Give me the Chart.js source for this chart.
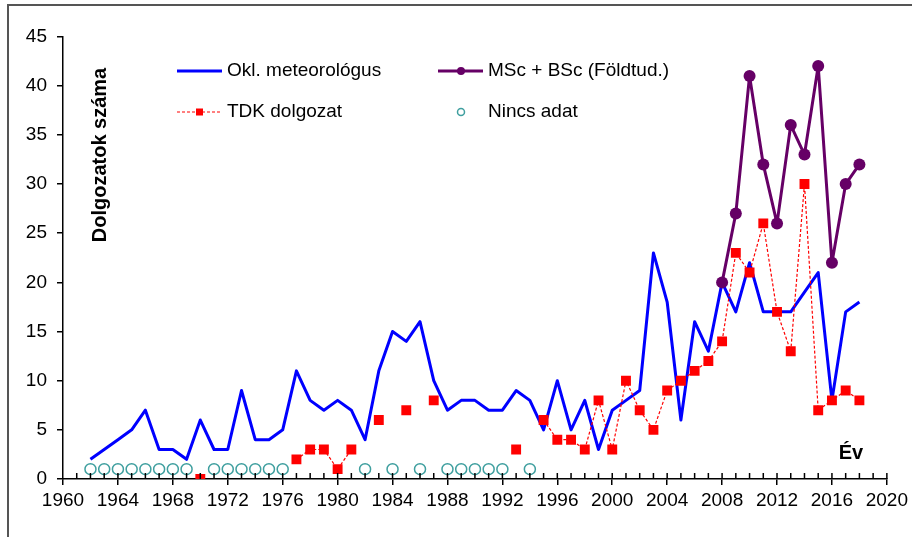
<!DOCTYPE html>
<html>
<head>
<meta charset="utf-8">
<script src="https://cdn.jsdelivr.net/npm/chart.js@4/dist/chart.umd.min.js"></script>
<style>
  html, body { margin: 0; padding: 0; background: #fff; }
  #chart { display: block; }
</style>
</head>
<body>
<canvas id="chart" width="912" height="537"></canvas>
<script>
// Okl. meteorológus, one value per year 1962..2018
const years = [1962, 1963, 1964, 1965, 1966, 1967, 1968, 1969, 1970, 1971,
               1972, 1973, 1974, 1975, 1976, 1977, 1978, 1979, 1980, 1981,
               1982, 1983, 1984, 1985, 1986, 1987, 1988, 1989, 1990, 1991,
               1992, 1993, 1994, 1995, 1996, 1997, 1998, 1999, 2000, 2001,
               2002, 2003, 2004, 2005, 2006, 2007, 2008, 2009, 2010, 2011,
               2012, 2013, 2014, 2015, 2016, 2017, 2018];
const oklMeteorologus = [2, 3, 4, 5, 7, 3, 3, 2, 6, 3,
                         3, 9, 4, 4, 5, 11, 8, 7, 8, 7,
                         4, 11, 15, 14, 16, 10, 7, 8, 8, 7,
                         7, 9, 8, 5, 10, 5, 8, 3, 7, 8,
                         9, 23, 18, 6, 16, 13, 20, 17, 22, 17,
                         17, 17, 19, 21, 8, 17, 18];
// TDK dolgozat (null = no value that year)
const tdkDolgozat = [null, null, null, null, null, null, null, null, 0, null,
                     null, null, null, null, null, 2, 3, 3, 1, 3,
                     null, 6, null, 7, null, 8, null, null, null, null,
                     null, 3, null, 6, 4, 4, 3, 8, 3, 10,
                     7, 5, 9, 10, 11, 12, 14, 23, 21, 26,
                     17, 13, 30, 7, 8, 9, 8];
// MSc + BSc (Földtud.)
const mscYears = [2008, 2009, 2010, 2011, 2012, 2013, 2014, 2015, 2016, 2017, 2018];
const mscBsc = [20, 27, 41, 32, 26, 36, 33, 42, 22, 30, 32];
// Nincs adat markers
const nincsYears = [1962, 1963, 1964, 1965, 1966, 1967, 1968, 1969,
                    1971, 1972, 1973, 1974, 1975, 1976,
                    1982, 1984, 1986, 1988, 1989, 1990, 1991, 1992, 1994];
const nincsValues = [1, 1, 1, 1, 1, 1, 1, 1,
                     1, 1, 1, 1, 1, 1,
                     1, 1, 1, 1, 1, 1, 1, 1, 1];

const blue = "#0000ff";
const purple = "#660066";
const red = "#ff0000";
const teal = "#3f9f9f";
const font = { family: "'Liberation Sans', Arial, sans-serif", size: 19 };
const boldFont = "bold 20px 'Liberation Sans', Arial, sans-serif";

const pairs = (xs, ys) => xs.map((x, i) => ({ x: x, y: ys[i] }));

// frame, minor ticks, in-plot titles and legend
const decorations = {
    id: "decorations",
    afterDraw(chart) {
        const c = chart.ctx;
        const xs = chart.scales.x;
        const ys = chart.scales.y;
        const y0 = ys.getPixelForValue(0);
        c.save();

        // outer frame
        c.strokeStyle = "#555";
        c.lineWidth = 2;
        c.beginPath();
        c.moveTo(8, 537);
        c.lineTo(8, 5);
        c.lineTo(912, 5);
        c.stroke();

        // minor ticks on the x axis (pointing inward)
        c.strokeStyle = "#000";
        c.lineWidth = 1.5;
        c.beginPath();
        for (let yr = 1961; yr <= 2020; yr++) {
            const px = xs.getPixelForValue(yr);
            c.moveTo(px, y0);
            c.lineTo(px, y0 - 6);
        }
        c.stroke();

        // axis titles inside the plot
        c.fillStyle = "#000";
        c.font = boldFont;
        c.textAlign = "center";
        c.textBaseline = "middle";
        c.save();
        c.translate(100, 155);
        c.rotate(-Math.PI / 2);
        c.fillText("Dolgozatok száma", 0, 0);
        c.restore();
        c.fillText("Év", 851, 453);

        // legend
        c.font = "19px 'Liberation Sans', Arial, sans-serif";
        c.textAlign = "left";
        const r1 = 71, r2 = 112;

        c.strokeStyle = blue;
        c.lineWidth = 3;
        c.beginPath(); c.moveTo(177, r1); c.lineTo(222, r1); c.stroke();
        c.fillStyle = "#000";
        c.fillText("Okl. meteorológus", 227, r1);

        c.strokeStyle = purple;
        c.beginPath(); c.moveTo(438, r1); c.lineTo(483, r1); c.stroke();
        c.fillStyle = purple;
        c.beginPath(); c.arc(461, r1, 4, 0, Math.PI * 2); c.fill();
        c.fillStyle = "#000";
        c.fillText("MSc + BSc (Földtud.)", 488, r1);

        c.strokeStyle = red;
        c.lineWidth = 1.2;
        c.setLineDash([3, 2]);
        c.beginPath(); c.moveTo(177, r2); c.lineTo(222, r2); c.stroke();
        c.setLineDash([]);
        c.fillStyle = red;
        c.fillRect(196, r2 - 3.5, 7, 7);
        c.fillStyle = "#000";
        c.fillText("TDK dolgozat", 227, r2);

        c.strokeStyle = teal;
        c.lineWidth = 1.5;
        c.beginPath(); c.arc(461, r2, 3.5, 0, Math.PI * 2); c.stroke();
        c.fillStyle = "#000";
        c.fillText("Nincs adat", 488, r2);

        c.restore();
    }
};

const chart = new Chart(document.getElementById("chart"), {
    type: "line",
    data: {
        datasets: [
            {
                label: "Okl. meteorológus",
                data: pairs(years, oklMeteorologus),
                borderColor: blue,
                borderWidth: 3,
                borderJoinStyle: "round",
                pointRadius: 0,
                fill: false,
                order: 4,
            },
            {
                label: "MSc + BSc (Földtud.)",
                data: pairs(mscYears, mscBsc),
                borderColor: purple,
                backgroundColor: purple,
                borderWidth: 3,
                borderJoinStyle: "round",
                pointRadius: 6,
                pointBorderWidth: 0,
                fill: false,
                order: 3,
            },
            {
                label: "TDK dolgozat",
                data: pairs(years, tdkDolgozat),
                borderColor: red,
                backgroundColor: red,
                borderWidth: 1.2,
                borderDash: [3, 2],
                pointStyle: "rect",
                pointRadius: 7,
                pointBorderWidth: 0,
                spanGaps: false,
                fill: false,
                order: 2,
            },
            {
                label: "Nincs adat",
                data: pairs(nincsYears, nincsValues),
                showLine: false,
                borderColor: teal,
                backgroundColor: "#fff",
                pointRadius: 5.5,
                pointBorderWidth: 1.5,
                order: 1,
            }
        ]
    },
    options: {
        responsive: false,
        animation: false,
        layout: { padding: { top: 20, right: 20, bottom: 0, left: 0 } },
        plugins: {
            legend: { display: false },
            tooltip: { enabled: false }
        },
        scales: {
            x: {
                type: "linear",
                min: 1960,
                max: 2020,
                ticks: { stepSize: 4, font: font, color: "#000", padding: 4, callback: v => String(v) },
                grid: { drawOnChartArea: false, drawTicks: true, tickLength: 6, color: "#000", lineWidth: 1.5 },
                border: { color: "#000", width: 1.5 }
            },
            y: {
                min: 0,
                max: 45,
                ticks: { stepSize: 5, font: font, color: "#000", padding: 10 },
                grid: { drawOnChartArea: false, drawTicks: true, tickLength: 6, color: "#000", lineWidth: 1.5 },
                border: { color: "#000", width: 1.5 }
            }
        }
    },
    plugins: [decorations]
});

// pin the plot area to where the reference has it
const area = chart.chartArea;
const pad = chart.options.layout.padding;
pad.top += 38 - area.top;
pad.left += 63 - area.left;
pad.right += area.right - 888;
pad.bottom += area.bottom - 479;
chart.update("none");
</script>
</body>
</html>
